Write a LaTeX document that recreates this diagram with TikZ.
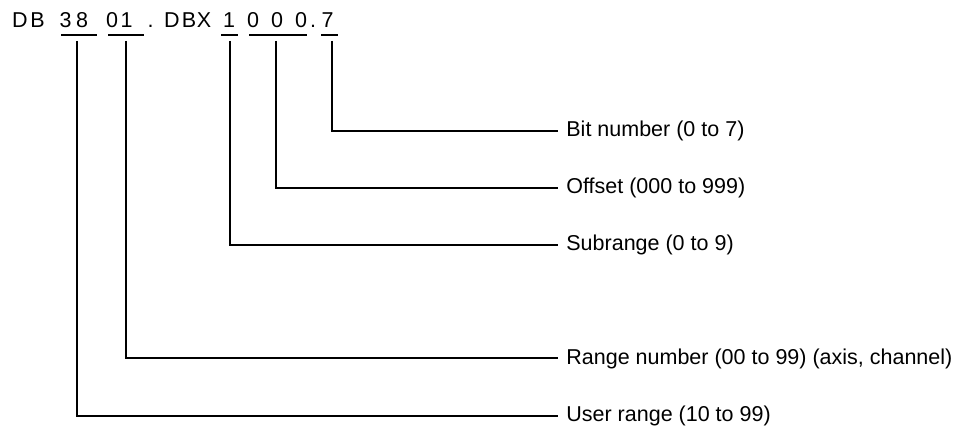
\documentclass[tikz,border=0pt]{standalone}
\usepackage{fontspec}
\setmainfont{Liberation Sans}
\begin{document}
\begin{tikzpicture}[x=0.5pt,y=-0.5pt,
  ch/.style={anchor=base,inner sep=0pt,font=\fontsize{10.75}{12}\selectfont},
  lbl/.style={anchor=west,inner xsep=4pt,inner ysep=0pt,font=\fontsize{10.75}{12}\selectfont},
  rule/.style={line width=1pt},
  conn/.style={line width=1pt}]
\useasboundingbox (0,0) rectangle (959,427);
% top address characters
\node[ch] (c1) at (20,28) {D};
\node[ch] (c2) at (37.5,28) {B};
\node[ch] (c3) at (65.5,28) {3};
\node[ch] (c4) at (82,28) {8};
\node[ch] (c5) at (112,28) {0};
\node[ch] (c6) at (126.5,28) {1};
\node[ch] (c7) at (150.5,28) {.};
\node[ch] (c8) at (172,28) {D};
\node[ch] (c9) at (189,28) {B};
\node[ch] (c10) at (204,28) {X};
\node[ch] (c11) at (229,28) {1};
\node[ch] (c12) at (253,28) {0};
\node[ch] (c13) at (277,28) {0};
\node[ch] (c14) at (301,28) {0};
\node[ch] (c15) at (313,28) {.};
\node[ch] (c16) at (327.5,28) {7};
% underlines
\coordinate (u1a) at (61,35);  \coordinate (u1b) at (97,35);
\coordinate (u2a) at (108,35); \coordinate (u2b) at (144,35);
\coordinate (u3a) at (221,35); \coordinate (u3b) at (238,35);
\coordinate (u4a) at (249,35); \coordinate (u4b) at (307,35);
\coordinate (u5a) at (321,35); \coordinate (u5b) at (338,35);
\draw[rule] (u1a) -- (u1b);
\draw[rule] (u2a) -- (u2b);
\draw[rule] (u3a) -- (u3b);
\draw[rule] (u4a) -- (u4b);
\draw[rule] (u5a) -- (u5b);
% connector starts
\coordinate (s1) at (77,41);
\coordinate (s2) at (125.5,41);
\coordinate (s3) at (230,41);
\coordinate (s4) at (276,41);
\coordinate (s5) at (332,41);
% labels
\node[lbl] (l5) at (558,130.7) {Bit number (0 to 7)};
\node[lbl] (l4) at (558,188) {Offset (000 to 999)};
\node[lbl] (l3) at (558,245) {Subrange (0 to 9)};
\node[lbl] (l2) at (558,358.5) {Range number (00 to 99) (axis, channel)};
\node[lbl] (l1) at (558,415.5) {User range (10 to 99)};
% connectors
\draw[conn] (s5) |- (l5.west);
\draw[conn] (s4) |- (l4.west);
\draw[conn] (s3) |- (l3.west);
\draw[conn] (s2) |- (l2.west);
\draw[conn] (s1) |- (l1.west);
\end{tikzpicture}
\end{document}
